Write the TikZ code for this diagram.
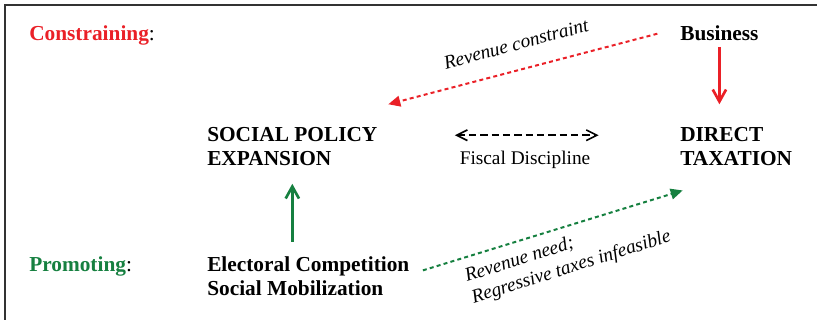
\documentclass[tikz,border=0pt]{standalone}
\usepackage{fontspec}
\setmainfont{Liberation Serif}
\usetikzlibrary{arrows.meta}
\definecolor{cred}{RGB}{234,32,39}
\definecolor{cgreen}{RGB}{22,128,64}

\begin{document}
\begin{tikzpicture}[x=0.75pt,y=-0.75pt,
    actor/.style={inner sep=0pt,anchor=base west,align=left,font=\fontsize{16}{18.5}\selectfont\bfseries},
    tag/.style={inner sep=0pt,align=left,font=\fontsize{14.5}{17}\selectfont\itshape},
    push/.style={line width=2pt,-{Straight Barb[length=9pt,width=10pt]}},
    dots/.style={line width=1.5pt,dash pattern=on 3pt off 2.4pt,-{Triangle[length=9pt,width=8pt]}}]
    \useasboundingbox (0,0) rectangle (817,320);
    \draw[line width=1.2pt,black!80] (817,5) -- (5,5) -- (5,320);
    %\draw[line width=1.2pt,black!80] (5,5) rectangle (817,320);
    \node[actor,text=cred] at (29,41) (1) {Constraining\textcolor{black}{\mdseries:}};
    \node[actor] at (680,41) (2) {Business};
    \node[actor] at (207,166) (3) {SOCIAL POLICY\\EXPANSION};
    \node[actor] at (680,166) (4) {DIRECT\\TAXATION};
    \node[actor] at (207,296) (5) {Electoral Competition\\Social Mobilization};
    \node[actor,text=cgreen] at (29,272) (6) {Promoting\textcolor{black}{\mdseries:}};
    \node[inner sep=0pt,anchor=base,font=\fontsize{14.5}{17}\selectfont] at (525,165) (7) {Fiscal Discipline};
    \node[tag,rotate=15] at (516,44) (8) {Revenue constraint};
    \node[tag,rotate=17.5] at (568,257) (9) {Revenue need;\\Regressive taxes infeasible};
    % arrows
    \draw[push,cred,shorten <=4pt,shorten >=17pt] (2.south) -- (2.south |- 4.north);
    \draw[push,cgreen,shorten <=11pt,shorten >=13pt] (3.south |- 5.north) -- (3.south);
    \draw[dots,cred] ([xshift=-17pt]2.west) -- ([xshift=8pt,yshift=17pt]3.north east);
    \draw[dots,cgreen] ([xshift=10pt,yshift=4.5pt]5.east) -- ([xshift=2pt,yshift=-18pt]4.south west);
    \draw[line width=1.2pt,dash pattern=on 5.5pt off 3pt,{Straight Barb[length=8pt,width=8pt]}-{Straight Barb[length=8pt,width=8pt]},shorten <=58pt,shorten >=61pt] ([yshift=8.6pt]3.east) -- ([yshift=8.6pt]3.east -| 4.west);
\end{tikzpicture}
\end{document}
